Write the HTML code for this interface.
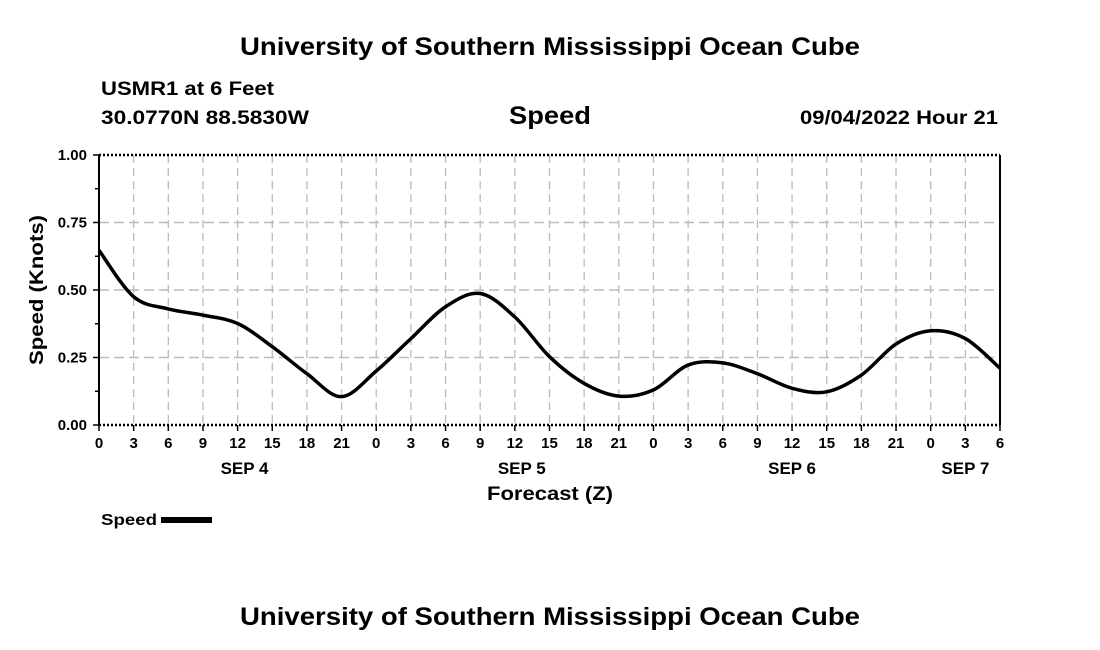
<!DOCTYPE html>
<html><head><meta charset="utf-8"><style>
body{margin:0;background:#fff;width:1100px;height:650px;overflow:hidden}
svg{display:block;font-family:"Liberation Sans",sans-serif}
</style></head><body>
<svg id="chart" width="1100" height="650">
<text x="240" y="55" textLength="620" lengthAdjust="spacingAndGlyphs" font-size="25" font-weight="bold">University of Southern Mississippi Ocean Cube</text>
<text x="101" y="95" textLength="173" lengthAdjust="spacingAndGlyphs" font-size="19" font-weight="bold">USMR1 at 6 Feet</text>
<text x="101" y="124" textLength="208" lengthAdjust="spacingAndGlyphs" font-size="19" font-weight="bold">30.0770N  88.5830W</text>
<text x="509" y="124" textLength="82" lengthAdjust="spacingAndGlyphs" font-size="25" font-weight="bold">Speed</text>
<text x="800" y="124" textLength="198" lengthAdjust="spacingAndGlyphs" font-size="19" font-weight="bold">09/04/2022 Hour 21</text>
<g id="grid"></g><g id="axes"></g>
<path id="line" fill="none" stroke="#000" stroke-width="3.5"/>
<text x="43" y="290" transform="rotate(-90 43 290)" text-anchor="middle" textLength="150" lengthAdjust="spacingAndGlyphs" font-size="19" font-weight="bold">Speed (Knots)</text>
<text x="487" y="500" textLength="126" lengthAdjust="spacingAndGlyphs" font-size="19" font-weight="bold">Forecast (Z)</text>
<g>
<text x="101" y="525" textLength="56" lengthAdjust="spacingAndGlyphs" font-size="16" font-weight="bold">Speed</text>
<rect x="161" y="517" width="51" height="6" fill="#000"/>
</g>
<text x="240" y="625" textLength="620" lengthAdjust="spacingAndGlyphs" font-size="25" font-weight="bold">University of Southern Mississippi Ocean Cube</text>
</svg>
<script>
const hours=[0,3,6,9,12,15,18,21,24,27,30,33,36,39,42,45,48,51,54,57,60,63,66,69,72,75,78];
const speeds=[0.647,0.475,0.43,0.407,0.376,0.29,0.19,0.105,0.20,0.32,0.438,0.487,0.40,0.253,0.154,0.107,0.13,0.222,0.23,0.19,0.136,0.123,0.185,0.30,0.349,0.32,0.21];
const yTicks=[0,0.25,0.5,0.75,1.0];
const yTickLabels=["0.00","0.25","0.50","0.75","1.00"];
const dayLabels=["SEP 4","SEP 5","SEP 6","SEP 7"];
const dayHours=[12.6,36.6,60,75];
const X0=99,X1=1000,Y0=425,Y1=155,HMAX=78;
const xs=h=>X0+(X1-X0)*h/HMAX, ys=v=>Y0-(Y0-Y1)*v;
const NS="http://www.w3.org/2000/svg";
const grid=document.getElementById('grid'),axes=document.getElementById('axes');
function mk(p,tag,at){const e=document.createElementNS(NS,tag);for(const k in at)e.setAttribute(k,at[k]);p.appendChild(e);return e;}
for(let h=3;h<HMAX;h+=3){const l=mk(grid,'line',{x1:xs(h),x2:xs(h),y1:Y1,y2:Y0,stroke:'#bbb','stroke-width':1.3,'stroke-dasharray':'8,5'});

}
yTicks.forEach((v,i)=>{if(v>0&&v<1){const l=mk(grid,'line',{x1:X0,x2:X1,y1:ys(v),y2:ys(v),stroke:'#bbb','stroke-width':1.5,'stroke-dasharray':'10,5'});

}
const t=mk(axes,'text',{x:X0-12,y:ys(v)+5,'text-anchor':'end','font-size':15,'font-weight':'bold'});t.textContent=yTickLabels[i];


mk(axes,'line',{x1:X0-6,x2:X0,y1:ys(v),y2:ys(v),stroke:'#000','stroke-width':1.5});});
for(let v=0.125;v<1;v+=0.25)mk(axes,'line',{x1:X0-4,x2:X0,y1:ys(v),y2:ys(v),stroke:'#000','stroke-width':1.5});
for(let h=0;h<=HMAX;h+=3){mk(axes,'line',{x1:xs(h),x2:xs(h),y1:Y0,y2:Y0+6,stroke:'#000','stroke-width':1.5});
const t=mk(axes,'text',{x:xs(h),y:Y0+23,'text-anchor':'middle','font-size':15,'font-weight':'bold'});t.textContent=String(h%24);

}
dayLabels.forEach((d,i)=>{const t=mk(axes,'text',{x:xs(dayHours[i]),y:Y0+49,'text-anchor':'middle','font-size':17,'font-weight':'bold'});t.textContent=d;

});
mk(axes,'line',{x1:X0,x2:X0,y1:Y1,y2:Y0,stroke:'#000','stroke-width':2});
mk(axes,'line',{x1:X1,x2:X1,y1:Y1,y2:Y0,stroke:'#000','stroke-width':2});
mk(axes,'line',{x1:X0,x2:X1,y1:Y1,y2:Y1,stroke:'#000','stroke-width':2.5,'stroke-dasharray':'2,2'});
mk(axes,'line',{x1:X0,x2:X1,y1:Y0,y2:Y0,stroke:'#000','stroke-width':2.5,'stroke-dasharray':'2,2'});
const P=hours.map((h,i)=>[xs(h),ys(speeds[i])]);
let d='M'+P[0][0]+','+P[0][1];
for(let i=0;i<P.length-1;i++){const p0=P[Math.max(0,i-1)],p1=P[i],p2=P[i+1],p3=P[Math.min(P.length-1,i+2)];
d+=` C${p1[0]+(p2[0]-p0[0])/6},${p1[1]+(p2[1]-p0[1])/6} ${p2[0]-(p3[0]-p1[0])/6},${p2[1]-(p3[1]-p1[1])/6} ${p2[0]},${p2[1]}`;}
document.getElementById('line').setAttribute('d',d);
</script>
</body></html>
